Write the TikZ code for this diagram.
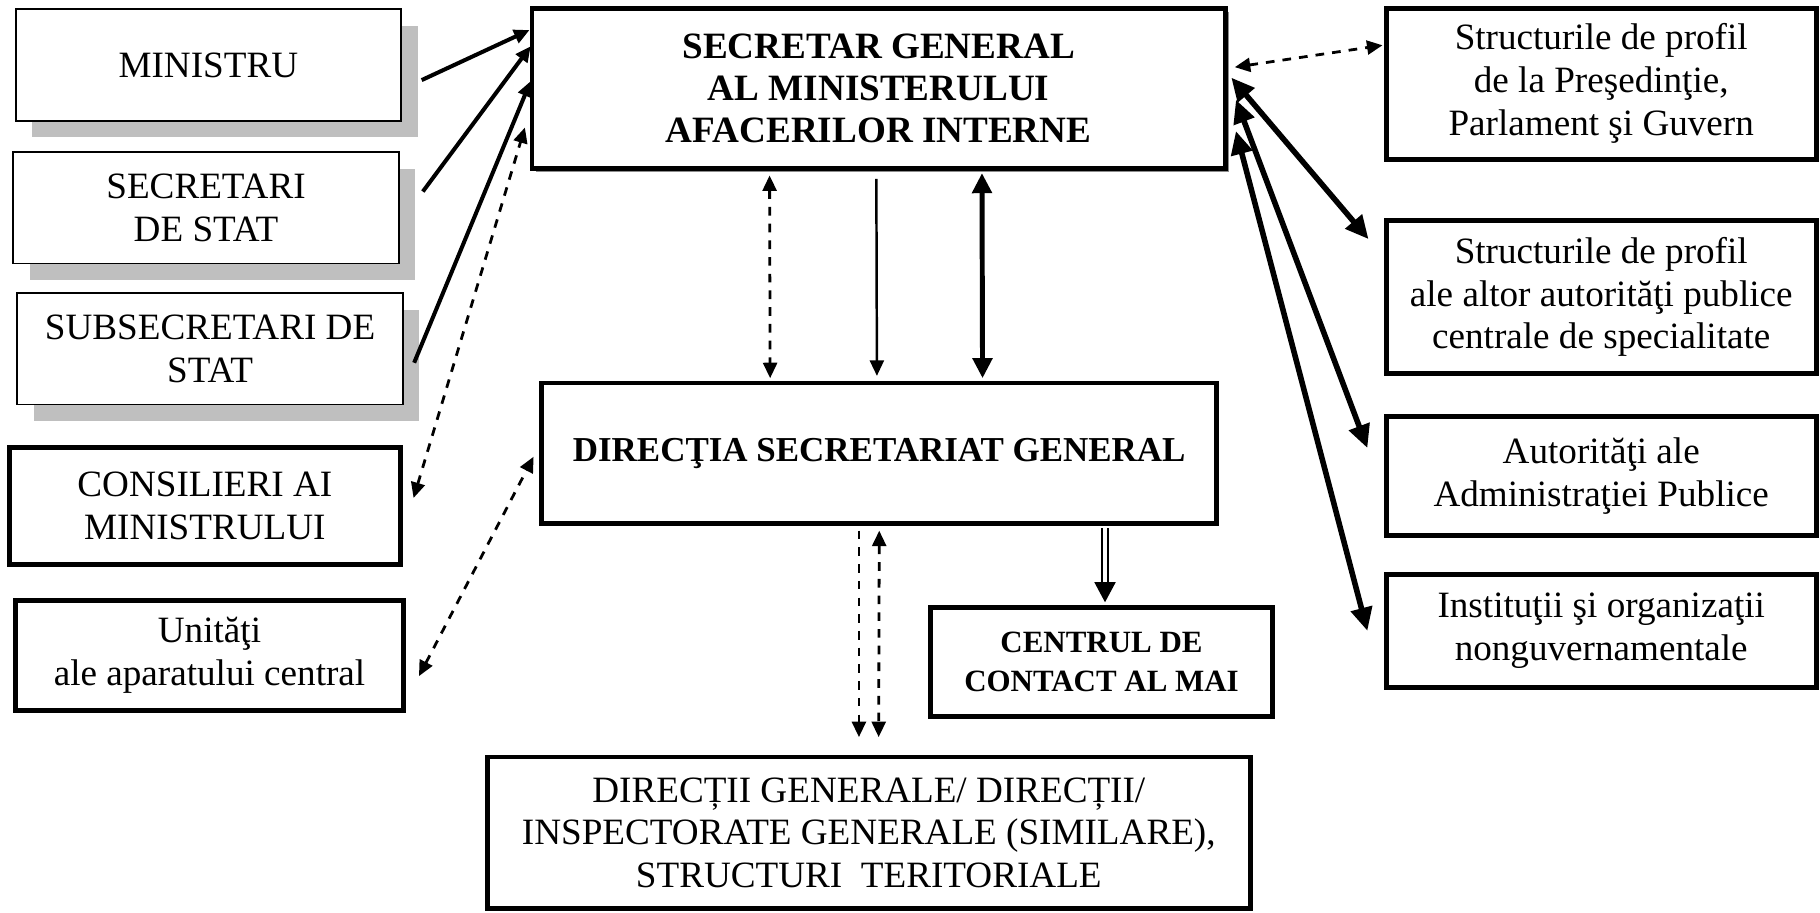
\documentclass[tikz,border=0pt]{standalone}
\usepackage{fontspec}
\setmainfont{Liberation Serif}
\usetikzlibrary{arrows.meta,shadows,calc}

\begin{document}
\begin{tikzpicture}[x=0.375pt, y=-0.375pt,
    box/.style={draw, fill=white, align=center, inner sep=0pt, font=\fontsize{12}{13.8}\selectfont},
    leftbox/.style={box, line width=0.6pt, minimum width=124.5pt, minimum height=36pt,
        drop shadow={shadow xshift=5.4pt, shadow yshift=-5.4pt, fill=black!25, opacity=1}},
    heavybox/.style={box, line width=1.6pt},
    rightbox/.style={heavybox, minimum width=139pt},
    boldtext/.style={font=\fontsize{12}{13.6}\selectfont\bfseries},
    dashedline/.style={line width=0.9pt, dash pattern=on 2.8pt off 2.6pt},
    dashboth/.style={dashedline, {Triangle[length=5pt,width=4.5pt]}-{Triangle[length=5pt,width=4.5pt]}},
    dashone/.style={dashedline, -{Triangle[length=5pt,width=4.5pt]}},
    solidarrow/.style={line width=1.3pt, -{Triangle[length=5pt,width=4.5pt]}},
    thinarrow/.style={line width=0.8pt, -{Triangle[length=5pt,width=4.5pt]}},
    thickboth/.style={line width=1.6pt, {Triangle[length=6.5pt,width=6.2pt]}-{Triangle[length=6.5pt,width=6.2pt]}},
    heavyboth/.style={line width=1.8pt, {Triangle[length=7.5pt,width=6.8pt]}-{Triangle[length=7.5pt,width=6.8pt]}},
    doublearrow/.style={double, double distance=1.6pt, line width=0.55pt, -{Triangle[length=6.5pt,width=6.8pt]}}
]
    \useasboundingbox (0,0) rectangle (1568,786);

    % Left boxes
    \node[leftbox] (ministru) at (179.5,56) {MINISTRU};
    \node[leftbox] (secretari) at (177.5,179) {SECRETARI\\DE STAT};
    \node[leftbox] (subsecretari) at (181,300.5) {SUBSECRETARI DE\\STAT};
    \node[heavybox, minimum width=126.5pt, minimum height=38pt] (consilieri) at (176.5,436) {CONSILIERI AI\\MINISTRULUI};
    \node[heavybox, minimum width=125.5pt, minimum height=35.6pt] (unitati) at (180.5,564.5) {Unităţi\\ale aparatului central};

    % Middle boxes
    \node[heavybox, boldtext, minimum width=224pt, minimum height=51.75pt,
        drop shadow={shadow xshift=1.3pt, shadow yshift=-1.3pt, fill=black!45, opacity=1}] (sg) at (757,76)
        {SECRETAR GENERAL\\AL MINISTERULUI\\AFACERILOR INTERNE};
    \node[heavybox, minimum width=218pt, minimum height=45.4pt, font=\fontsize{11.3}{13}\selectfont\bfseries] (dsg) at (757.5,390.5) {DIRECŢIA SECRETARIAT GENERAL};
    \node[heavybox, minimum width=110.25pt, minimum height=35.25pt, font=\fontsize{10}{12.5}\selectfont\bfseries] (centrul) at (949,570) {CENTRUL DE\\CONTACT AL MAI};
    \node[heavybox, minimum width=246.4pt, minimum height=49pt] (directii) at (748.5,717.5)
        {DIRECȚII GENERALE/ DIRECȚII/\\INSPECTORATE GENERALE (SIMILARE),\\STRUCTURI~~TERITORIALE};

    % Right boxes
    \node[rightbox, minimum height=48.75pt] (presedintie) at (1379.5,72) {Structurile de profil\\de la Preşedinţie,\\Parlament şi Guvern};
    \node[rightbox, minimum height=49.5pt] (altor) at (1379.5,256) {Structurile de profil\\ale altor autorităţi publice\\centrale de specialitate};
    \node[rightbox, minimum height=38.25pt] (administratie) at (1379.5,410) {Autorităţi ale\\Administraţiei Publice};
    \node[rightbox, minimum height=36.4pt] (institutii) at (1379.5,543.5) {Instituţii şi organizaţii\\nonguvernamentale};

    % Arrows from the left
    \draw[solidarrow] ($(ministru.east)+(17,13)$) -- ($(sg.north west)+(0,21)$);
    \draw[solidarrow] ($(secretari.east)+(20,-14)$) -- ($(sg.north west)+(1,35)$);
    \draw[solidarrow] ($(subsecretari.east)+(9,12)$) -- ($(sg.north west)+(1,65)$);
    \draw[dashboth] ($(consilieri.east)+(9,-7)$) -- ($(sg.north west)+(-4,105)$);
    \draw[dashboth] ($(unitati.east)+(11,18)$) -- ($(dsg.west)+(-5,3)$);

    % Arrows between SG and DSG
    \draw[dashboth] ($(sg.south)+(-94,4)$) -- ($(dsg.north)+(-94,-2)$);
    \draw[thinarrow] ($(sg.south)+(-2,7)$) -- ($(dsg.north)+(-2,-4)$);
    \draw[thickboth] ($(sg.south)+(89,2)$) -- ($(dsg.north)+(89,-2)$);

    % Arrows below DSG
    \draw[dashone] ($(dsg.south)+(-17.5,4)$) -- ($(directii.north)+(-8.5,-15)$);
    \draw[dashboth] ($(dsg.south)+(0,4)$) -- ($(directii.north)+(8.5,-15)$);
    \draw[doublearrow] ($(dsg.south -| centrul.north)+(3,2)$) -- ($(centrul.north)+(3,-2)$);

    % Arrows to the right
    \draw[dashboth] ($(sg.north east)+(6,53)$) -- ($(presedintie.west)+(-1,-33)$);
    \draw[heavyboth] ($(sg.north east)+(3,62)$) -- ($(altor.west)+(-13,-50)$);
    \draw[heavyboth] ($(sg.north east)+(7,81)$) -- ($(administratie.west)+(-14,-24)$);
    \draw[heavyboth] ($(sg.north east)+(7,108)$) -- ($(institutii.west)+(-14,0)$);
\end{tikzpicture}
\end{document}
